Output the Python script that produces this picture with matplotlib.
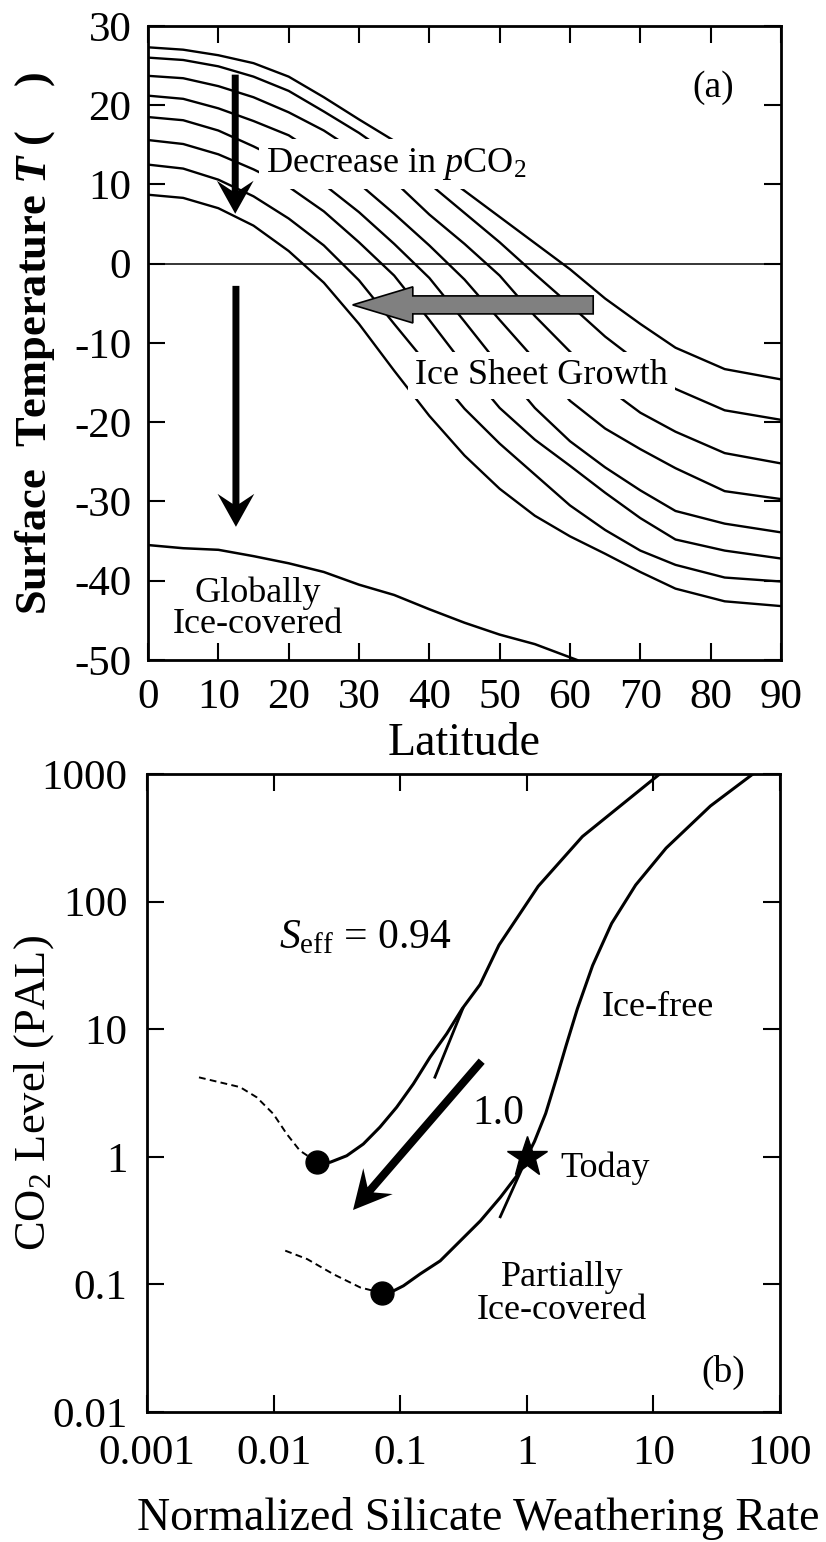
import numpy as np
import matplotlib.pyplot as plt
from matplotlib.patches import FancyArrow

plt.rcParams['font.family'] = 'Liberation Serif'
plt.rcParams['mathtext.fontset'] = 'custom'
plt.rcParams['mathtext.rm'] = 'Liberation Serif'
plt.rcParams['mathtext.it'] = 'Liberation Serif:italic'
plt.rcParams['mathtext.bf'] = 'Liberation Serif:bold'
plt.rcParams['mathtext.bfit'] = 'Liberation Serif:italic:bold'
plt.rcParams['axes.unicode_minus'] = False

# (a) latitude profiles of surface temperature, warm -> cold pCO2
lat = [0, 5, 10, 15, 20, 25, 30, 35, 40, 45, 50, 55, 60, 65, 70, 75, 82, 90]
temp_profiles = [
    [27.3, 27.0, 26.3, 25.3, 23.6, 21.0, 18.2, 15.5, 12.4, 9.2, 5.9, 2.6, -0.7, -4.4, -7.6, -10.6, -13.3, -14.6],
    [26.0, 25.7, 24.9, 23.6, 21.8, 19.2, 16.5, 13.4, 10.1, 6.4, 2.7, -1.3, -5.2, -9.2, -12.6, -15.8, -18.5, -19.7],
    [23.7, 23.4, 22.4, 21.0, 19.1, 16.8, 13.9, 10.4, 6.2, 2.5, -1.5, -6.6, -11.1, -15.5, -18.8, -21.2, -23.9, -25.2],
    [21.2, 20.8, 19.6, 18.0, 16.2, 13.3, 10.1, 6.3, 2.3, -2.0, -7.1, -12.1, -17.3, -20.8, -23.4, -25.8, -28.7, -29.7],
    [18.5, 18.1, 16.8, 14.8, 12.6, 10.0, 6.5, 2.5, -1.8, -7.3, -12.9, -18.2, -22.4, -25.7, -28.6, -31.2, -32.8, -33.9],
    [15.6, 15.1, 13.8, 11.9, 9.7, 6.6, 2.7, -1.5, -7.1, -12.9, -18.2, -22.2, -25.5, -28.9, -32.1, -34.8, -36.2, -37.2],
    [12.5, 12.0, 10.6, 8.5, 5.7, 2.3, -2.1, -7.6, -13.0, -18.3, -22.7, -26.6, -30.5, -33.6, -36.2, -38.0, -39.6, -40.1],
    [8.7, 8.3, 7.0, 4.8, 1.6, -2.4, -7.6, -13.5, -19.2, -24.2, -28.4, -31.8, -34.4, -36.6, -38.9, -41.0, -42.6, -43.2],
]
lat_ice = [0, 5, 10, 15, 20, 25, 30, 35, 40, 45, 50, 55, 61]
temp_ice = [-35.5, -35.9, -36.1, -36.9, -37.8, -38.9, -40.5, -41.8, -43.6, -45.3, -46.8, -48.0, -50.0]

# (b) CO2 level vs normalized silicate weathering rate
w_094 = [11.2, 6.31, 2.75, 1.23, 0.603, 0.427, 0.309, 0.233, 0.172, 0.127, 0.0938, 0.0692, 0.0511, 0.0378, 0.0279, 0.0219]
c_094 = [1000, 631, 324, 132, 45.7, 22.4, 14.5, 9.23, 6.04, 3.73, 2.45, 1.71, 1.26, 1.02, 0.906, 0.912]
w_094_fold = [0.312, 0.188]
c_094_fold = [14.5, 4.21]
w_094_dash = [0.0219, 0.0161, 0.0127, 0.00995, 0.00735, 0.00543, 0.00254]
c_094_dash = [0.912, 1.12, 1.51, 2.17, 2.93, 3.52, 4.21]

w_10 = [61.0, 28.2, 12.6, 7.24, 4.68, 3.31, 2.51, 2.04, 1.72, 1.41, 1.15, 1.0,
        0.832, 0.618, 0.430, 0.299, 0.207, 0.144, 0.106, 0.0887, 0.0723]
c_10 = [1000, 562, 263, 135, 67.6, 31.6, 14.5, 7.41, 4.17, 2.19, 1.32, 1.0,
        0.708, 0.481, 0.315, 0.220, 0.153, 0.121, 0.0975, 0.0891, 0.0855]
w_10_fold = [0.977, 0.617]
c_10_fold = [0.933, 0.339]
w_10_dash = [0.0723, 0.0484, 0.0298, 0.0184, 0.0120]
c_10_dash = [0.0855, 0.0946, 0.120, 0.158, 0.186]

dots_w = [0.0219, 0.0723]
dots_c = [0.912, 0.0855]
today_w, today_c = 1.0, 1.0

fig = plt.figure(figsize=(8.26, 15.42), dpi=100)
ax1 = fig.add_axes([0.1792, 0.5720, 0.7663, 0.4112])
ax2 = fig.add_axes([0.1780, 0.0843, 0.7663, 0.4137])


def style(ax):
    for s in ax.spines.values():
        s.set_linewidth(2.0)
    ax.tick_params(which='both', direction='in', top=True, right=True,
                   length=12, width=1.5, labelsize=31)


def arrow(ax, p0, p1, **kw):
    # arrow drawn in axes fraction so the head keeps its shape
    inv = ax.transAxes.inverted()
    a = inv.transform(ax.transData.transform(p0))
    b = inv.transform(ax.transData.transform(p1))
    ax.add_patch(FancyArrow(a[0], a[1], b[0] - a[0], b[1] - a[1],
                            transform=ax.transAxes, length_includes_head=True,
                            zorder=5, **kw))


# ---- panel (a)
for t in temp_profiles:
    ax1.plot(lat, t, color='k', lw=1.7, solid_joinstyle='round')
ax1.plot(lat_ice, temp_ice, color='k', lw=1.8, solid_joinstyle='round')
ax1.axhline(0, color='k', lw=1.1)
ax1.set_xlim(0, 90)
ax1.set_ylim(-50, 30)
ax1.set_xticks(range(0, 91, 10))
ax1.set_yticks(range(-50, 31, 10))
style(ax1)
ax1.tick_params(axis='x', pad=13)
ax1.tick_params(axis='y', pad=12)
ax1.set_xlabel('Latitude', fontsize=33)
ax1.xaxis.set_label_coords(0.5, -0.099)
ax1.set_ylabel(r'Surface  Temperature $\mathbfit{T}$ (    )', fontsize=32, fontweight='bold')
ax1.yaxis.set_label_coords(-0.144, 0.5)

box = dict(facecolor='white', edgecolor='none', pad=5)
ax1.text(16.8, 11.58, r'Decrease in $p$CO$_2$', fontsize=26, ha='left', va='baseline',
         bbox=box, zorder=4)
ax1.text(38.0, -15.17, 'Ice Sheet Growth', fontsize=26, ha='left', va='baseline',
         bbox=box, zorder=4)
ax1.text(15.6, -42.64, 'Globally', fontsize=26, ha='center', va='baseline')
ax1.text(15.6, -46.63, 'Ice-covered', fontsize=26, ha='center', va='baseline')
ax1.text(80.4, 22.2, '(a)', fontsize=27, ha='center', va='center')

arrow(ax1, (12.4, 23.85), (12.4, 6.3), width=0.011, head_width=0.058,
      head_length=0.052, overhang=0.3, fc='k', ec='none')
arrow(ax1, (12.5, -2.8), (12.5, -33.2), width=0.011, head_width=0.058,
      head_length=0.052, overhang=0.3, fc='k', ec='none')
arrow(ax1, (63.3, -5.2), (29.1, -5.2), width=0.0284, head_width=0.057,
      head_length=0.095, overhang=0, fc='#808080', ec='k', lw=1.2)

# ---- panel (b)
ax2.set_xscale('log')
ax2.set_yscale('log')
ax2.plot(w_094, c_094, color='k', lw=2.2, solid_joinstyle='round')
ax2.plot(w_094_fold, c_094_fold, color='k', lw=2.0)
ax2.plot(w_094_dash, c_094_dash, color='k', lw=1.4, ls=(0, (3.5, 2.2)))
ax2.plot(w_10, c_10, color='k', lw=2.2, solid_joinstyle='round')
ax2.plot(w_10_fold, c_10_fold, color='k', lw=2.0)
ax2.plot(w_10_dash, c_10_dash, color='k', lw=1.4, ls=(0, (3.5, 2.2)))
ax2.plot(dots_w, dots_c, 'o', color='k', ms=16.5, zorder=6)
ax2.plot([today_w], [today_c], '*', color='k', ms=30, zorder=6)
ax2.set_xlim(0.001, 100)
ax2.set_ylim(0.01, 1000)
ax2.set_xticks([0.001, 0.01, 0.1, 1, 10, 100])
ax2.set_xticklabels(['0.001', '0.01', '0.1', '1', '10', '100'])
ax2.set_yticks([0.01, 0.1, 1, 10, 100, 1000])
ax2.set_yticklabels(['0.01', '0.1', '1', '10', '100', '1000'])
ax2.minorticks_off()
style(ax2)
ax2.tick_params(axis='x', pad=16)
ax2.tick_params(axis='y', pad=14)
ax2.set_xlabel('Normalized Silicate Weathering Rate', fontsize=33)
ax2.xaxis.set_label_coords(0.523, -0.133)
ax2.set_ylabel(r'CO$_2$ Level (PAL)', fontsize=32)
ax2.yaxis.set_label_coords(-0.144, 0.5)

ax2.text(0.0111, 42.85, r'$S_{\mathrm{eff}}$ = 0.94', fontsize=30, ha='left', va='baseline')
ax2.text(0.374, 1.81, '1.0', fontsize=30, ha='left', va='baseline')
ax2.text(3.91, 12.8, 'Ice-free', fontsize=26, ha='left', va='baseline')
ax2.text(1.83, 0.697, 'Today', fontsize=26, ha='left', va='baseline')
ax2.text(1.90, 0.0975, 'Partially', fontsize=26, ha='center', va='baseline')
ax2.text(1.90, 0.0533, 'Ice-covered', fontsize=26, ha='center', va='baseline')
ax2.text(35.7, 0.0203, '(b)', fontsize=27, ha='center', va='center')

arrow(ax2, (0.44, 5.62), (0.0424, 0.383), width=0.0126, head_width=0.0616,
      head_length=0.06, overhang=0.3, fc='k', ec='none')

fig.savefig('out.png', dpi=100)
